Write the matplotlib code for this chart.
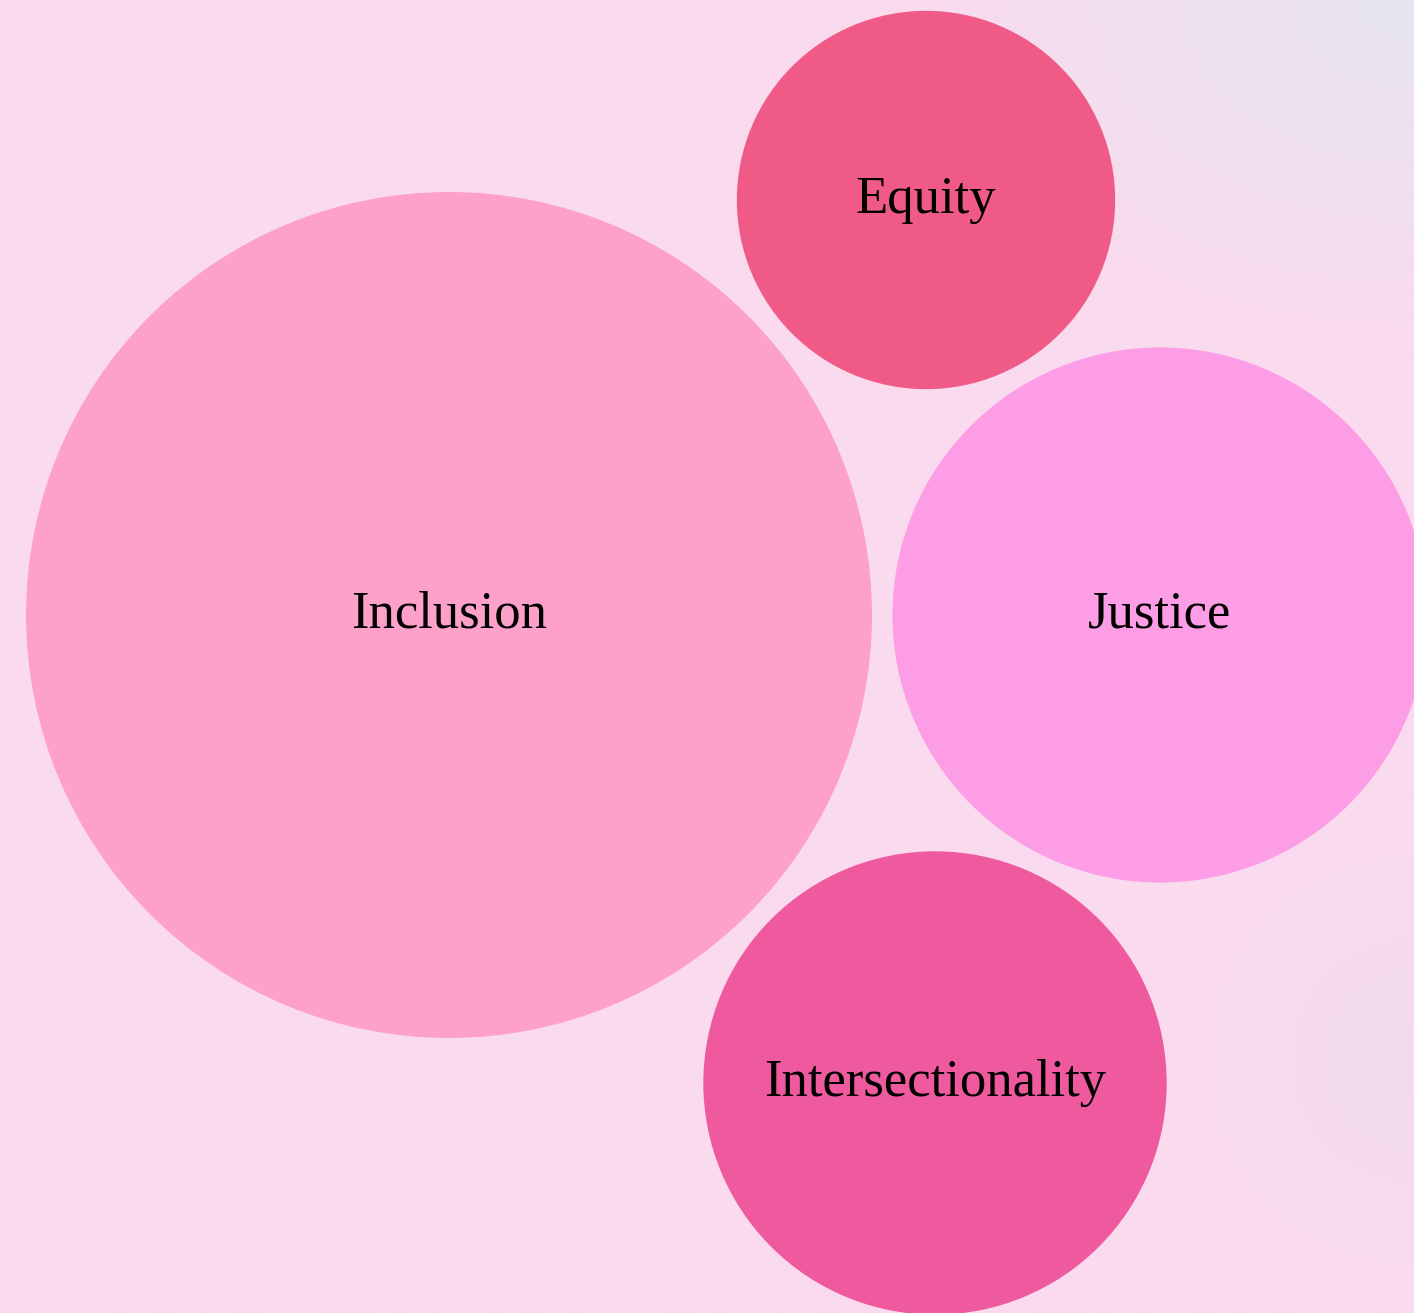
import numpy as np
import matplotlib
matplotlib.use("Agg")
import matplotlib.pyplot as plt
from matplotlib.patches import Circle
from matplotlib.colors import to_rgb

# Data
categories = ["Inclusion", "Equity", "Justice", "Intersectionality"]
values = [50, 10, 20, 15]
x_pos = [449, 926, 1160, 935]
y_pos = [615, 200, 615, 1083]
colors = ["#FDA1CB", "#F05A87", "#FD9DE6", "#EF5A9F"]

W, H = 1414, 1313
fig = plt.figure(figsize=(W / 100, H / 100), dpi=100)
ax = fig.add_axes([0, 0, 1, 1])
ax.set_xlim(0, W)
ax.set_ylim(H, 0)
ax.set_axis_off()

# Background gradient
yy, xx = np.mgrid[0:H:4, 0:W:4]
base = np.array(to_rgb("#FADAEE"))
lav = np.array(to_rgb("#E7E4F2"))
lav2 = np.array(to_rgb("#EEDBEE"))
d1 = np.sqrt(((xx - W) / 480.0) ** 2 + (yy / 330.0) ** 2)
w1 = np.clip(1 - d1, 0, 1)[..., None] ** 0.8
d2 = np.sqrt(((xx - W) / 230.0) ** 2 + ((yy - 1060) / 230.0) ** 2)
w2 = np.clip(1 - d2, 0, 1)[..., None] * 0.7
img = base * (1 - w1) + lav * w1
img = img * (1 - w2) + lav2 * w2
ax.imshow(img, extent=[0, W, H, 0], aspect="auto", zorder=0, interpolation="bilinear")

scale = 423 / np.sqrt(50)
for cat, v, x, y, c in zip(categories, values, x_pos, y_pos, colors):
    r = scale * np.sqrt(v)
    ax.add_patch(Circle((x, y), r, facecolor=c, edgecolor="none", zorder=2))
    ax.text(x, y, cat, ha="center", va="center", fontsize=38,
            family=["Liberation Serif", "DejaVu Serif"], color="black", zorder=3)

fig.savefig("out.png", dpi=100)
